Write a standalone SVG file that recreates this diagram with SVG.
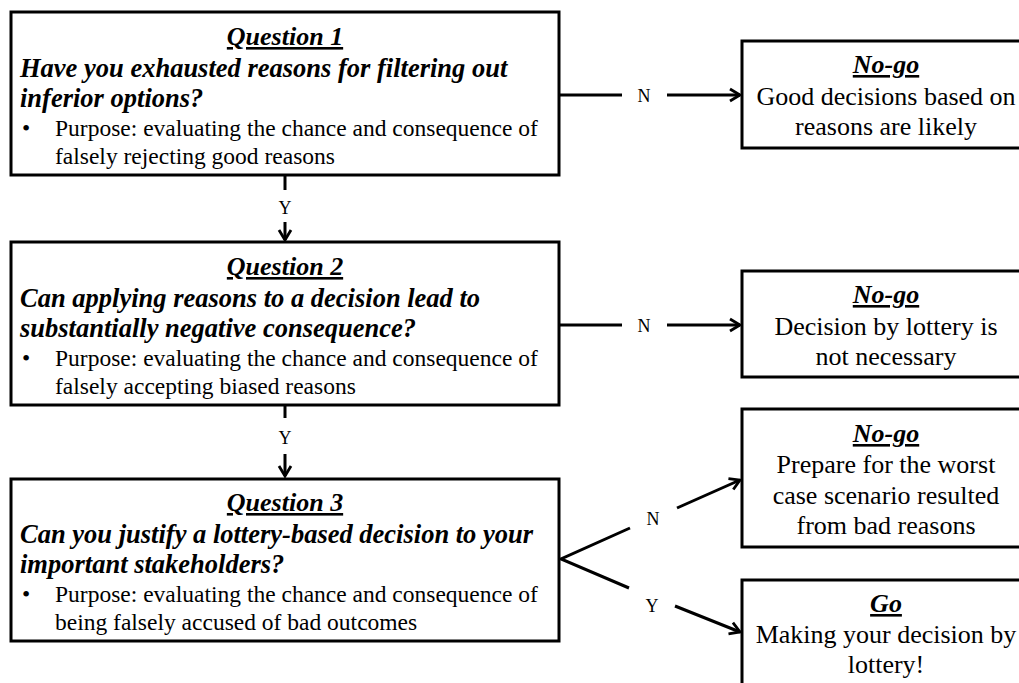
<svg xmlns="http://www.w3.org/2000/svg" width="1019" height="683" viewBox="0 0 1019 683">
<style>
.box{fill:#fff;stroke:#000;stroke-width:3}
.t{font-family:"Liberation Serif","Times New Roman",serif;fill:#000}
.title{font-size:26px;font-weight:bold;font-style:italic;text-decoration:underline;text-anchor:middle}
.q{font-size:26.5px;font-weight:bold;font-style:italic}
.p{font-size:23.5px}
.r{font-size:26px;text-anchor:middle}
.lbl{font-size:18px;text-anchor:middle}
.c{stroke:#000;stroke-width:3;fill:none}
</style>
<defs>
<marker id="ah" markerUnits="userSpaceOnUse" markerWidth="16" markerHeight="16" refX="12" refY="8" orient="auto">
<path d="M2,2 L12,8 L2,14" fill="none" stroke="#000" stroke-width="2.8"/>
</marker>
</defs>
<rect width="1019" height="683" fill="#fff"/>
<g id="connectors">
<line class="c" x1="285" y1="175" x2="285" y2="190"/>
<line class="c" x1="285" y1="222" x2="285" y2="240" marker-end="url(#ah)"/>
<line class="c" x1="285" y1="405" x2="285" y2="418"/>
<line class="c" x1="285" y1="454" x2="285" y2="476" marker-end="url(#ah)"/>
<line class="c" x1="559" y1="95" x2="622" y2="95"/>
<line class="c" x1="667" y1="95" x2="740" y2="95" marker-end="url(#ah)"/>
<line class="c" x1="559" y1="325" x2="622" y2="325"/>
<line class="c" x1="667" y1="325" x2="740" y2="325" marker-end="url(#ah)"/>
<polyline class="c" points="630,528 561,559 629,588"/>
<line class="c" x1="677" y1="508" x2="740" y2="480" marker-end="url(#ah)"/>
<line class="c" x1="675" y1="606" x2="740" y2="632" marker-end="url(#ah)"/>
<text class="t lbl" x="285" y="214">Y</text>
<text class="t lbl" x="285" y="444">Y</text>
<text class="t lbl" x="644" y="102">N</text>
<text class="t lbl" x="644" y="332">N</text>
<text class="t lbl" x="653" y="525">N</text>
<text class="t lbl" x="652" y="612">Y</text>
</g>
<g id="q1">
<rect class="box" x="11" y="12" width="548" height="163"/>
<text class="t title" x="285" y="45">Question 1</text>
<text class="t q" x="20" y="77">Have you exhausted reasons for filtering out</text>
<text class="t q" x="20" y="107">inferior options?</text>
<text class="t p" x="22" y="136">•</text>
<text class="t p" x="55" y="136">Purpose: evaluating the chance and consequence of</text>
<text class="t p" x="55" y="164">falsely rejecting good reasons</text>
</g>
<g id="q2">
<rect class="box" x="11" y="242" width="548" height="163"/>
<text class="t title" x="285" y="275">Question 2</text>
<text class="t q" x="20" y="307">Can applying reasons to a decision lead to</text>
<text class="t q" x="20" y="337">substantially negative consequence?</text>
<text class="t p" x="22" y="366">•</text>
<text class="t p" x="55" y="366">Purpose: evaluating the chance and consequence of</text>
<text class="t p" x="55" y="394">falsely accepting biased reasons</text>
</g>
<g id="q3">
<rect class="box" x="11" y="479" width="548" height="162"/>
<text class="t title" x="285" y="511">Question 3</text>
<text class="t q" x="20" y="543">Can you justify a lottery-based decision to your</text>
<text class="t q" x="20" y="573">important stakeholders?</text>
<text class="t p" x="22" y="602">•</text>
<text class="t p" x="55" y="602">Purpose: evaluating the chance and consequence of</text>
<text class="t p" x="55" y="630">being falsely accused of bad outcomes</text>
</g>
<g id="nogo1">
<rect class="box" x="742" y="41" width="290" height="107"/>
<text class="t title" x="886" y="73">No-go</text>
<text class="t r" x="886" y="105">Good decisions based on</text>
<text class="t r" x="886" y="135">reasons are likely</text>
</g>
<g id="nogo2">
<rect class="box" x="742" y="271" width="290" height="106"/>
<text class="t title" x="886" y="303">No-go</text>
<text class="t r" x="886" y="335">Decision by lottery is</text>
<text class="t r" x="886" y="365">not necessary</text>
</g>
<g id="nogo3">
<rect class="box" x="742" y="409" width="290" height="138"/>
<text class="t title" x="886" y="442">No-go</text>
<text class="t r" x="886" y="473">Prepare for the worst</text>
<text class="t r" x="886" y="504">case scenario resulted</text>
<text class="t r" x="886" y="534">from bad reasons</text>
</g>
<g id="go">
<rect class="box" x="742" y="580" width="290" height="120"/>
<text class="t title" x="886" y="612">Go</text>
<text class="t r" x="886" y="643">Making your decision by</text>
<text class="t r" x="886" y="673">lottery!</text>
</g>
</svg>
